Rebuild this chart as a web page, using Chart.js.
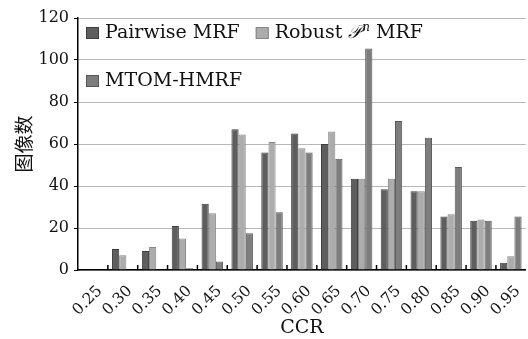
<!DOCTYPE html>
<html>
<head>
<meta charset="utf-8">
<script src="https://cdn.jsdelivr.net/npm/chart.js@4/dist/chart.umd.min.js"></script>
<style>
  body { margin: 0; background: #fff; }
  #wrap { width: 528px; height: 339px; }
</style>
</head>
<body>
<div id="wrap"><canvas id="myChart" width="528" height="339"></canvas></div>
<script>
const categories = ['0.25','0.30','0.35','0.40','0.45','0.50','0.55','0.60','0.65','0.70','0.75','0.80','0.85','0.90','0.95'];
const pairwise = [0.3, 10, 9, 21, 31.5, 67, 56, 65, 60, 43.5, 38.5, 37.5, 25.5, 23.5, 3.5];
const robust   = [0.3, 7, 11, 15, 27, 64.5, 61, 58, 66, 43.5, 43.5, 37.5, 26.5, 24, 6.5];
const mtom     = [0.3, 0, 0, 0.8, 4, 17.5, 27.5, 56, 53, 105.5, 71, 63, 49, 23.5, 25.5];
const yTicks   = [0, 20, 40, 60, 80, 100, 120];

const serif = "'DejaVu Serif', 'Liberation Serif', serif";
const legendFont = "19px " + serif;

// legend drawn inside the plot, two rows like the original
const insideLegend = {
  id: 'insideLegend',
  afterDraw(chart) {
    const ctx = chart.ctx;
    const area = chart.chartArea;
    const ds = chart.data.datasets;
    ctx.save();
    ctx.textBaseline = 'middle';
    const items = [
      {i: 0, x: area.left + 8, y: area.top + 15},
      {i: 1, x: null, y: area.top + 15},
      {i: 2, x: area.left + 8, y: area.top + 63}
    ];
    let nextX = 0;
    items.forEach(function (it) {
      const d = ds[it.i];
      const x = it.x === null ? nextX : it.x;
      ctx.fillStyle = d.backgroundColor;
      ctx.strokeStyle = d.borderColor;
      ctx.lineWidth = 1;
      ctx.fillRect(x, it.y - 6, 13, 12);
      ctx.strokeRect(x + 0.5, it.y - 5.5, 12, 11);
      ctx.fillStyle = '#111';
      let tx = x + 19;
      d.legendParts.forEach(function (p) {
        ctx.font = p.font;
        ctx.fillText(p.t, tx, it.y + (p.dy || 0));
        tx += ctx.measureText(p.t).width + (p.gap || 0);
      });
      nextX = tx + 16;
    });
    ctx.restore();
  }
};

// short inner tick marks on the x axis at category boundaries
const innerTicks = {
  id: 'innerTicks',
  afterDatasetsDraw(chart) {
    const ctx = chart.ctx;
    const xs = chart.scales.x;
    const bottom = chart.chartArea.bottom;
    ctx.save();
    ctx.strokeStyle = '#000';
    ctx.lineWidth = 1.5;
    for (let i = 1; i < categories.length; i++) {
      const x = (xs.getPixelForValue(i - 1) + xs.getPixelForValue(i)) / 2;
      ctx.beginPath();
      ctx.moveTo(x, bottom);
      ctx.lineTo(x, bottom - 5);
      ctx.stroke();
    }
    ctx.restore();
  }
};

new Chart(document.getElementById('myChart'), {
  type: 'bar',
  data: {
    labels: categories,
    datasets: [
      {label: 'Pairwise MRF', data: pairwise, backgroundColor: '#5e5e5e', borderColor: '#3e3e3e', borderWidth: 1,
       legendParts: [{t: 'Pairwise MRF', font: legendFont}]},
      {label: 'Robust Pn MRF', data: robust, backgroundColor: '#acacac', borderColor: '#858585', borderWidth: 1,
       legendParts: [{t: 'Robust ', font: legendFont}, {t: '𝒫', font: "italic 18px " + serif, gap: 1},
                     {t: 'n', font: "italic 12px " + serif, dy: -5}, {t: ' MRF', font: legendFont}]},
      {label: 'MTOM-HMRF', data: mtom, backgroundColor: '#7d7d7d', borderColor: '#575757', borderWidth: 1,
       legendParts: [{t: 'MTOM-HMRF', font: legendFont}]}
    ]
  },
  options: {
    responsive: false,
    animation: false,
    layout: { padding: { top: 18, right: 0, left: 0, bottom: 0 } },
    plugins: { legend: { display: false }, tooltip: { enabled: false } },
    datasets: { bar: { categoryPercentage: 0.72, barPercentage: 1 } },
    scales: {
      x: {
        grid: { display: false },
        border: { color: '#000', width: 1.5 },
        ticks: { color: '#111', font: { family: serif, size: 15.5 }, minRotation: 45, maxRotation: 45, autoSkip: false, padding: 4, labelOffset: 7 },
        title: { display: true, text: 'CCR', color: '#111', font: { family: serif, size: 19 }, padding: { top: 0, bottom: 0 } },
        afterFit(scale) { scale.height = 69; }
      },
      y: {
        min: 0, max: 120,
        afterBuildTicks(scale) { scale.ticks = yTicks.map(function (v) { return {value: v}; }); },
        grid: { color: '#b8b8b8', lineWidth: 1, tickColor: '#000', tickLength: 4 },
        border: { color: '#000', width: 1.5 },
        ticks: { color: '#111', font: { family: serif, size: 16 }, padding: 5 },
        title: { display: true, text: '图像数', color: '#111', font: { family: "'Noto Sans CJK SC', sans-serif", size: 19 }, padding: { top: 12, bottom: 0 } },
        afterFit(scale) { scale.width = 78; }
      }
    }
  },
  plugins: [insideLegend, innerTicks]
});
</script>
</body>
</html>
